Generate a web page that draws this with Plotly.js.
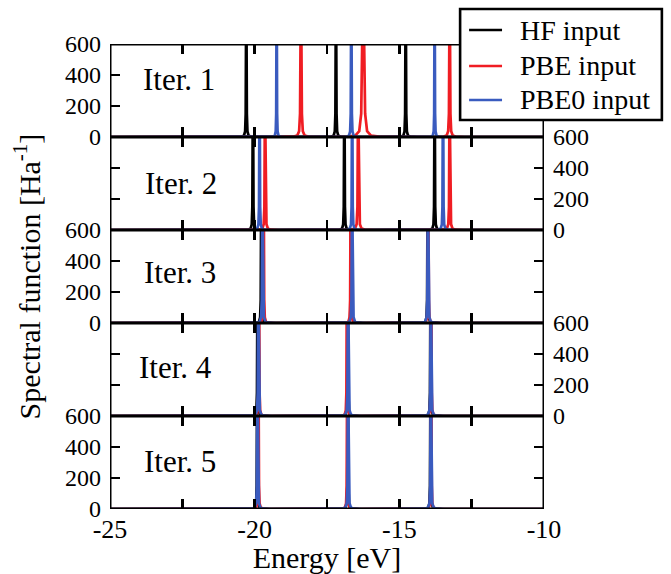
<!DOCTYPE html>
<html>
<head>
<meta charset="utf-8">
<script src="https://cdn.plot.ly/plotly-3.0.1.min.js"></script>
<style>html,body{margin:0;padding:0;background:#fff;}#chart{width:671px;height:574px;}</style>
</head>
<body>
<div id="chart"></div>
<script>
// ---- data ----
const SERIES_NAMES = ['HF input', 'PBE input', 'PBE0 input'];
const PANEL_LABELS = ['Iter. 1', 'Iter. 2', 'Iter. 3', 'Iter. 4', 'Iter. 5'];
const X_TICK_VALUES = [-25, -20, -15, -10];
const X_TICK_LABELS = ['-25', '-20', '-15', '-10'];
const X_MINOR_TICK_VALUES = [-22.5, -17.5, -12.5];
const Y_TICK_VALUES = [0, 200, 400, 600];
const Y_TICK_LABELS = ['0', '200', '400', '600'];

// peak positions (eV) per iteration panel
const HF_PEAKS = [
  [-20.29, -17.19, -14.78],
  [-20.06, -16.90, -13.78],
  [-19.77, -16.66, -14.02],
  [-19.90, -16.78, -13.92],
  [-19.91, -16.78, -13.92]
];
const PBE_PEAKS = [
  [-18.40, -16.25, -13.26],
  [-19.64, -16.42, -13.26],
  [-19.69, -16.68, -14.00],
  [-19.85, -16.81, -13.90],
  [-19.87, -16.80, -13.90]
];
const PBE0_PEAKS = [
  [-19.24, -16.66, -13.78],
  [-19.83, -16.63, -13.49],
  [-19.73, -16.63, -14.01],
  [-19.87, -16.77, -13.91],
  [-19.90, -16.77, -13.91]
];
// half-width (eV) at which each peak leaves the 600 window
const HF_WIDTHS = [
  [0.010, 0.010, 0.010],
  [0.010, 0.010, 0.010],
  [0.010, 0.010, 0.010],
  [0.010, 0.010, 0.010],
  [0.010, 0.010, 0.010]
];
const PBE_WIDTHS = [
  [0.016, 0.034, 0.013],
  [0.012, 0.014, 0.012],
  [0.010, 0.010, 0.010],
  [0.010, 0.010, 0.010],
  [0.010, 0.010, 0.010]
];
const PBE0_WIDTHS = [
  [0.008, 0.010, 0.008],
  [0.010, 0.010, 0.010],
  [0.012, 0.012, 0.012],
  [0.012, 0.012, 0.012],
  [0.012, 0.012, 0.012]
];
// line-shape of one peak (offset in half-widths, height)
const PROFILE_T = [-40, -16, -8, -4, -2, -1, -0.3, 0, 0.3, 1, 2, 4, 8, 16, 40];
const PROFILE_Y = [0, 2.3, 9.4, 37, 150, 600, 2500, 3000, 2500, 600, 150, 37, 9.4, 2.3, 0];

const SERIES_PEAKS = [HF_PEAKS, PBE_PEAKS, PBE0_PEAKS];
const SERIES_WIDTHS = [HF_WIDTHS, PBE_WIDTHS, PBE0_WIDTHS];
const SERIES_COLORS = ['#000000', '#f01d23', '#3a5bbf'];

function buildSpectrum(centers, widths) {
  const xs = [-25], ys = [0];
  const order = centers.map((c, i) => i).sort((a, b) => centers[a] - centers[b]);
  order.forEach(i => {
    PROFILE_T.forEach((t, k) => {
      xs.push(centers[i] + t * widths[i]);
      ys.push(PROFILE_Y[k]);
    });
  });
  xs.push(-10); ys.push(0);
  return {xs, ys};
}

const FONT = '"Liberation Serif", "Times New Roman", Times, serif';
const traces = [];
const layout = {
  width: 671, height: 574,
  margin: {l: 110, r: 127, t: 44, b: 65},
  paper_bgcolor: '#ffffff', plot_bgcolor: 'rgba(0,0,0,0)',
  showlegend: false,
  font: {family: FONT, color: '#000'},
  annotations: [], shapes: []
};

const nP = PANEL_LABELS.length;
for (let p = 0; p < nP; p++) {
  const sfx = p === 0 ? '' : String(p + 1);
  for (let s = 0; s < SERIES_NAMES.length; s++) {
    const sp = buildSpectrum(SERIES_PEAKS[s][p], SERIES_WIDTHS[s][p]);
    traces.push({
      type: 'scatter', mode: 'lines', x: sp.xs, y: sp.ys,
      xaxis: 'x' + sfx, yaxis: 'y' + sfx,
      name: SERIES_NAMES[s], legendgroup: SERIES_NAMES[s],
      line: {color: SERIES_COLORS[s], width: 2.7},
      hoverinfo: 'skip'
    });
  }
  const isLast = p === nP - 1;
  layout['xaxis' + sfx] = {
    domain: [0, 1], anchor: 'y' + sfx, range: [-25, -10],
    tickmode: 'array', tickvals: X_TICK_VALUES, ticktext: X_TICK_LABELS,
    showticklabels: isLast, ticklabelstandoff: 2,
    ticks: 'inside', ticklen: 10, tickwidth: 2.6, tickcolor: '#000',
    minor: {tickmode: 'array', tickvals: X_MINOR_TICK_VALUES, ticks: 'inside', ticklen: 10, tickwidth: 2.6, tickcolor: '#000', showgrid: false},
    showline: false, mirror: 'ticks',
    showgrid: false, zeroline: false,
    tickfont: {family: FONT, size: 26, color: '#000'}
  };
  if (isLast) layout['xaxis' + sfx].title = {text: 'Energy [eV]', font: {family: FONT, size: 30, color: '#000'}, standoff: 6};
  if (p > 0) layout['xaxis' + sfx].matches = 'x';
  const top = 1 - p / nP, bot = 1 - (p + 1) / nP;
  layout['yaxis' + sfx] = {
    domain: [bot, top], anchor: 'x' + sfx, range: [0, 600],
    side: (p % 2 === 0) ? 'left' : 'right',
    tickmode: 'array', tickvals: Y_TICK_VALUES, ticktext: Y_TICK_LABELS,
    ticklabelstandoff: 8,
    ticks: 'inside', ticklen: 10, tickwidth: 2.6, tickcolor: '#000',
    showline: false, mirror: 'ticks',
    showgrid: false, zeroline: false,
    tickfont: {family: FONT, size: 24, color: '#000'}
  };
  if (p === 2) layout['yaxis' + sfx].title = {text: 'Spectral function [Ha<sup>-1</sup>]', font: {family: FONT, size: 30, color: '#000'}, standoff: 15};
  // panel frame, centred on the plot-area edges
  layout.shapes.push({
    type: 'rect', xref: 'x' + sfx, yref: 'y' + sfx,
    x0: -25, x1: -10, y0: 0, y1: 600,
    line: {color: '#000', width: 3}, fillcolor: 'rgba(0,0,0,0)', layer: 'above'
  });
}

// iteration labels
const LABEL_X = [-22.62, -22.55, -22.58, -22.74, -22.58];
const LABEL_Y = [368, 303, 326, 313, 305];
PANEL_LABELS.forEach((t, p) => {
  const sfx = p === 0 ? '' : String(p + 1);
  layout.annotations.push({
    text: t, xref: 'x' + sfx, yref: 'y' + sfx, x: LABEL_X[p], y: LABEL_Y[p],
    showarrow: false, xanchor: 'center', yanchor: 'middle',
    font: {family: FONT, size: 31, color: '#000'}
  });
});

// legend box (drawn as shapes + text, above the top panel)
layout.shapes.push({
  type: 'rect', xref: 'paper', yref: 'paper',
  x0: 0.8067, x1: 1.2716, y0: 0.8366, y1: 1.0753,
  fillcolor: '#ffffff', line: {color: '#000', width: 2.6}, layer: 'above'
});
const LEG_Y = [1.0301, 0.9527, 0.8796];
SERIES_NAMES.forEach((n, s) => {
  layout.shapes.push({
    type: 'line', xref: 'paper', yref: 'paper',
    x0: 0.8274, x1: 0.9033, y0: LEG_Y[s], y1: LEG_Y[s],
    line: {color: SERIES_COLORS[s], width: 2.7}, layer: 'above'
  });
  layout.annotations.push({
    text: n, xref: 'paper', yref: 'paper', x: 0.9402, y: LEG_Y[s],
    xanchor: 'left', yanchor: 'middle', showarrow: false,
    font: {family: FONT, size: 28, color: '#000'}
  });
});

Plotly.newPlot('chart', traces, layout, {displayModeBar: false, staticPlot: true});
</script>
</body>
</html>
